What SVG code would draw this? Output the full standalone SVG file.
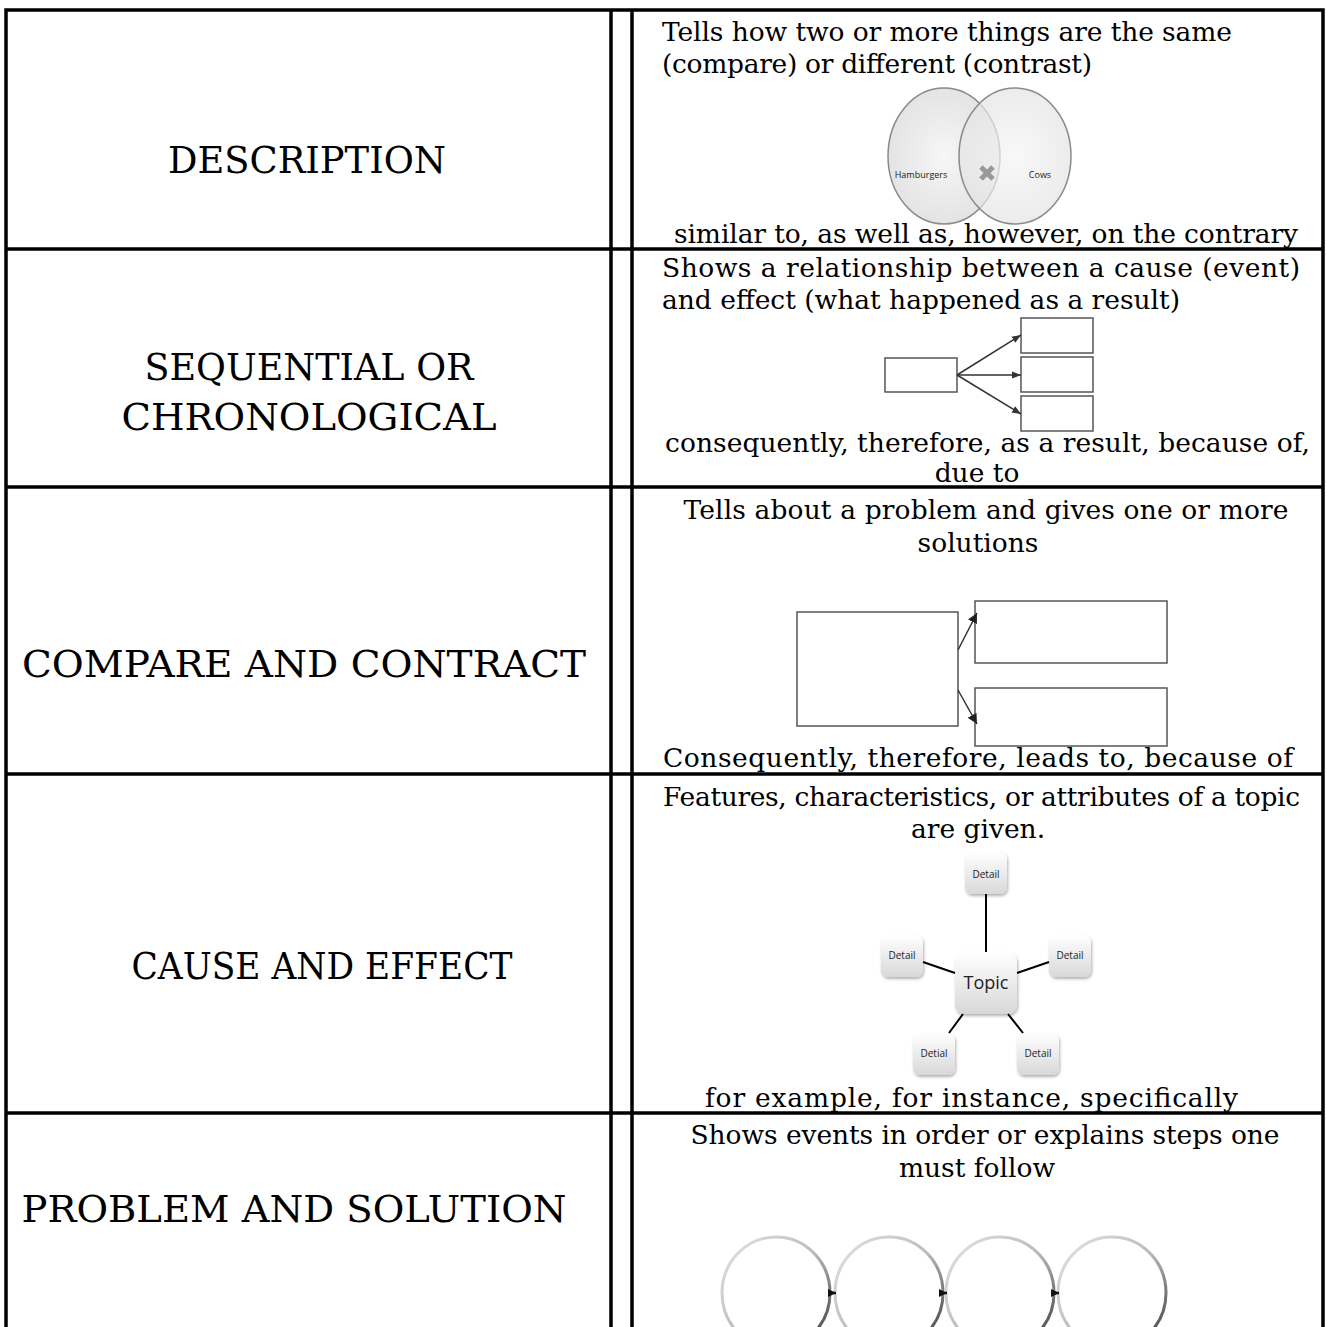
<svg xmlns="http://www.w3.org/2000/svg" width="1326" height="1327" viewBox="0 0 1326 1327">
<style>
.grid{stroke:#000;stroke-width:3.5;fill:none}
.lbl{font-family:"DejaVu Serif","Liberation Serif",serif;font-size:37px;fill:#000;text-anchor:middle}
.txt{font-family:"DejaVu Serif","Liberation Serif",serif;font-size:26.5px;fill:#000}
.mid{text-anchor:middle}
.box{fill:#fff;stroke:#555;stroke-width:1.5}
.sm{font-family:"Open Sans","Noto Sans",sans-serif;fill:#222;text-anchor:middle}
.ln{stroke:#333;stroke-width:1.5;fill:none}
.dl{stroke:#000;stroke-width:2;fill:none}
.circ{fill:#fff;stroke:url(#cg);stroke-width:3}
</style>
<defs>
<marker id="a1" viewBox="0 0 10 10" refX="10" refY="5" markerWidth="6" markerHeight="6" orient="auto"><path d="M0,1 L10,5 L0,9 z" fill="#333"/></marker>
<marker id="a2" viewBox="0 0 10 10" refX="10" refY="5" markerWidth="8" markerHeight="8" orient="auto" markerUnits="userSpaceOnUse"><path d="M0,0 L10,5 L0,10 z" fill="#111"/></marker>
<marker id="a3" viewBox="0 0 10 10" refX="10" refY="5" markerWidth="10" markerHeight="10" orient="auto" markerUnits="userSpaceOnUse"><path d="M0,0 L10,5 L0,10 z" fill="#222"/></marker>
<linearGradient id="dg" x1="0" y1="0" x2="0" y2="1"><stop offset="0" stop-color="#ffffff"/><stop offset="1" stop-color="#d8d8d8"/></linearGradient>
<linearGradient id="cg" x1="0" y1="0" x2="1" y2="1"><stop offset="0" stop-color="#e4e4e4"/><stop offset="0.5" stop-color="#bbbbbb"/><stop offset="1" stop-color="#333333"/></linearGradient>
<radialGradient id="vg" cx="0.5" cy="0.5" r="0.6"><stop offset="0" stop-color="#f6f6f6"/><stop offset="1" stop-color="#e0e0e0"/></radialGradient>
<filter id="sh" x="-20%" y="-20%" width="150%" height="150%"><feDropShadow dx="1" dy="2" stdDeviation="1.5" flood-color="#000" flood-opacity="0.3"/></filter>
</defs>

<g id="table">
<rect class="grid" x="6" y="10" width="1317" height="1330"/>
<line class="grid" x1="611" y1="10" x2="611" y2="1327"/>
<line class="grid" x1="632" y1="10" x2="632" y2="1327"/>
<line class="grid" x1="6" y1="249" x2="1323" y2="249"/>
<line class="grid" x1="6" y1="487" x2="1323" y2="487"/>
<line class="grid" x1="6" y1="774" x2="1323" y2="774"/>
<line class="grid" x1="6" y1="1113" x2="1323" y2="1113"/>
</g>

<g id="left-labels">
<text class="lbl" x="307" y="173" textLength="278" lengthAdjust="spacingAndGlyphs">DESCRIPTION</text>
<text class="lbl" x="309" y="380" textLength="329" lengthAdjust="spacingAndGlyphs">SEQUENTIAL OR</text>
<text class="lbl" x="309" y="430" textLength="375" lengthAdjust="spacingAndGlyphs">CHRONOLOGICAL</text>
<text class="lbl" x="304" y="677" textLength="564" lengthAdjust="spacingAndGlyphs">COMPARE AND CONTRACT</text>
<text class="lbl" x="322" y="979" textLength="381" lengthAdjust="spacingAndGlyphs">CAUSE AND EFFECT</text>
<text class="lbl" x="294" y="1222" textLength="545" lengthAdjust="spacingAndGlyphs">PROBLEM AND SOLUTION</text>
</g>

<g id="row1">
<text class="txt" x="662" y="41" textLength="570">Tells how two or more things are the same</text>
<text class="txt" x="662" y="73" textLength="430">(compare) or different (contrast)</text>
<g id="venn">
<ellipse cx="944" cy="156" rx="56" ry="68" fill="url(#vg)" stroke="#8a8a8a" stroke-width="1.5"/>
<ellipse cx="1015" cy="156" rx="56" ry="68" fill="url(#vg)" fill-opacity="0.7" stroke="#8a8a8a" stroke-width="1.5"/>
<text class="sm" x="921" y="178" font-size="9">Hamburgers</text>
<text class="sm" x="1040" y="178" font-size="9">Cows</text>
<path d="M981,167 L993,179 M993,167 L981,179" stroke="#999" stroke-width="5"/>
</g>
<text class="txt" x="674" y="243" textLength="624">similar to, as well as, however, on the contrary</text>
</g>

<g id="row2">
<text class="txt" x="662" y="277" textLength="638">Shows a relationship between a cause (event)</text>
<text class="txt" x="662" y="309" textLength="518">and effect (what happened as a result)</text>
<rect id="cause" class="box" x="885" y="358" width="72" height="34"/>
<rect id="eff1" class="box" x="1021" y="318" width="72" height="35"/>
<rect id="eff2" class="box" x="1021" y="357" width="72" height="35"/>
<rect id="eff3" class="box" x="1021" y="396" width="72" height="35"/>
<text class="txt" x="665" y="452" textLength="645">consequently, therefore, as a result, because of,</text>
<text class="txt mid" x="977" y="482">due to</text>
</g>

<g id="row3">
<text class="txt mid" x="986" y="519" textLength="605">Tells about a problem and gives one or more</text>
<text class="txt mid" x="978" y="552">solutions</text>
<rect id="problem" class="box" x="797" y="612" width="161" height="114"/>
<rect id="sol1" class="box" x="975" y="601" width="192" height="62"/>
<rect id="sol2" class="box" x="975" y="688" width="192" height="58"/>
<text class="txt" x="663" y="767" textLength="630">Consequently, therefore, leads to, because of</text>
</g>

<g id="row4">
<text class="txt" x="663" y="806" textLength="637">Features, characteristics, or attributes of a topic</text>
<text class="txt mid" x="978" y="838">are given.</text>
<g id="topic" filter="url(#sh)"><rect x="955" y="952" width="62" height="62" rx="9" fill="url(#dg)"/></g>
<text class="sm" x="986" y="989" font-size="18">Topic</text>
<g id="d-top" filter="url(#sh)"><rect x="965" y="852" width="42" height="42" rx="7" fill="url(#dg)"/></g>
<text class="sm" x="986" y="878" font-size="10">Detail</text>
<g id="d-left" filter="url(#sh)"><rect x="881" y="935" width="42" height="42" rx="7" fill="url(#dg)"/></g>
<text class="sm" x="902" y="959" font-size="10">Detail</text>
<g id="d-right" filter="url(#sh)"><rect x="1049" y="935" width="42" height="42" rx="7" fill="url(#dg)"/></g>
<text class="sm" x="1070" y="959" font-size="10">Detail</text>
<g id="d-bl" filter="url(#sh)"><rect x="913" y="1033" width="42" height="42" rx="7" fill="url(#dg)"/></g>
<text class="sm" x="934" y="1057" font-size="10">Detial</text>
<g id="d-br" filter="url(#sh)"><rect x="1017" y="1033" width="42" height="42" rx="7" fill="url(#dg)"/></g>
<text class="sm" x="1038" y="1057" font-size="10">Detail</text>
<text class="txt" x="705" y="1107" textLength="533">for example, for instance, specifically</text>
</g>

<g id="row5">
<text class="txt mid" x="985" y="1144" textLength="589">Shows events in order or explains steps one</text>
<text class="txt mid" x="977" y="1177">must follow</text>
<ellipse id="step1" class="circ" cx="776" cy="1293" rx="54" ry="56"/>
<ellipse id="step2" class="circ" cx="889" cy="1293" rx="54" ry="56"/>
<ellipse id="step3" class="circ" cx="1000" cy="1293" rx="54" ry="56"/>
<ellipse id="step4" class="circ" cx="1112" cy="1293" rx="54" ry="56"/>
</g>

<g id="connectors">
<line class="ln" x1="957" y1="375" x2="1021" y2="335" marker-end="url(#a1)"/>
<line class="ln" x1="957" y1="375" x2="1021" y2="375" marker-end="url(#a1)"/>
<line class="ln" x1="957" y1="375" x2="1021" y2="414" marker-end="url(#a1)"/>
<line class="ln" x1="958" y1="650" x2="977" y2="613" marker-end="url(#a3)"/>
<line class="ln" x1="958" y1="690" x2="977" y2="724" marker-end="url(#a3)"/>
<line class="dl" x1="986" y1="894" x2="986" y2="952"/>
<line class="dl" x1="923" y1="962" x2="955" y2="973"/>
<line class="dl" x1="1017" y1="973" x2="1049" y2="962"/>
<line class="dl" x1="963" y1="1014" x2="949" y2="1033"/>
<line class="dl" x1="1008" y1="1014" x2="1023" y2="1033"/>
<line x1="830" y1="1293" x2="836" y2="1293" stroke="#111" stroke-width="2.5" marker-end="url(#a2)"/>
<line x1="943" y1="1293" x2="947" y2="1293" stroke="#111" stroke-width="2.5" marker-end="url(#a2)"/>
<line x1="1054" y1="1293" x2="1059" y2="1293" stroke="#111" stroke-width="2.5" marker-end="url(#a2)"/>
</g>
</svg>
